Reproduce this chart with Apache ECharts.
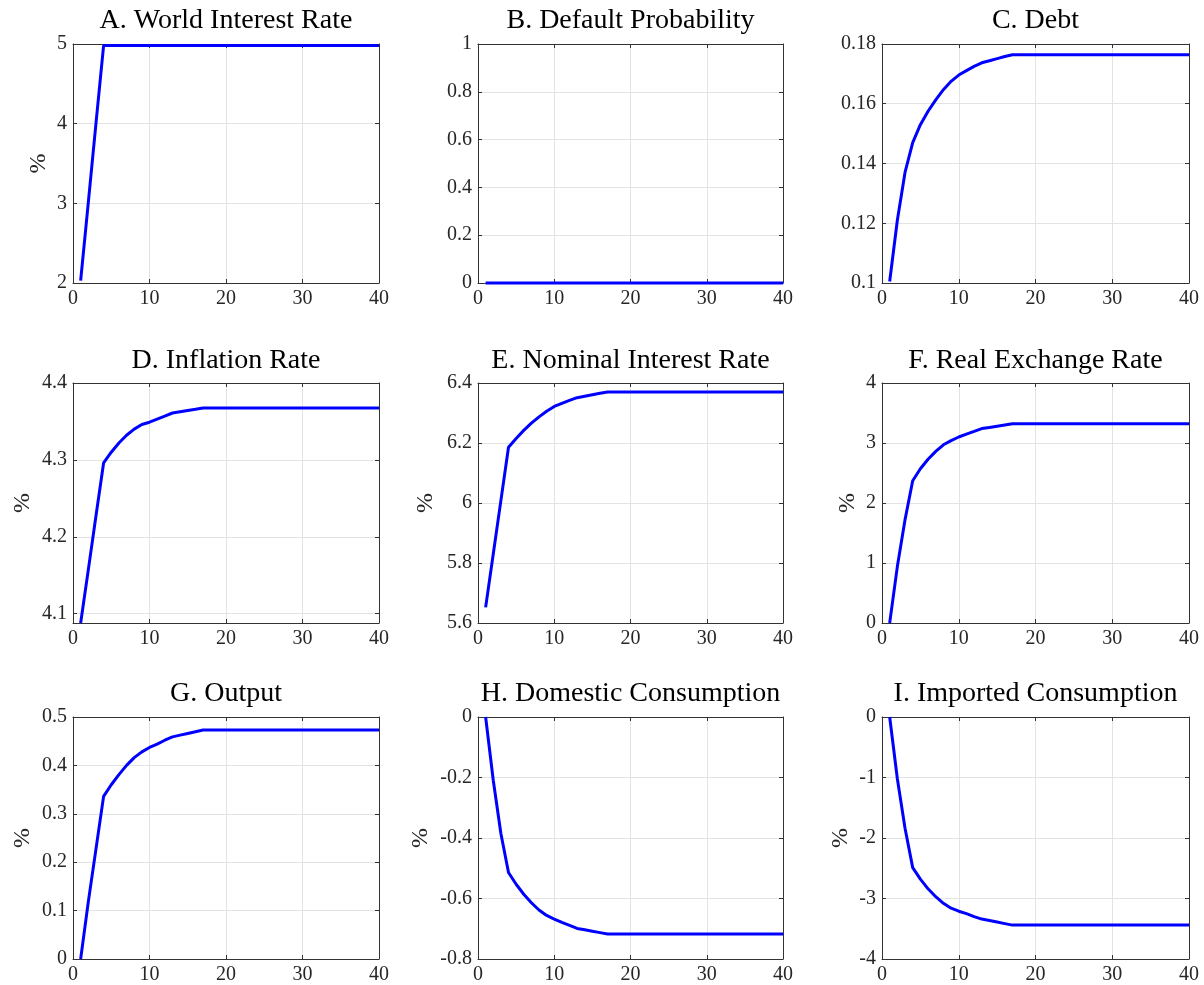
<!DOCTYPE html>
<html>
<head>
<meta charset="utf-8">
<script src="https://cdn.jsdelivr.net/npm/echarts@6/dist/echarts.min.js"></script>
<style>
html,body{margin:0;padding:0;background:#fff;}
#chart{width:1204px;height:985px;}
</style>
</head>
<body>
<div id="chart"></div>
<script>
// ---- data ----
const periods = [1,2,3,4,5,6,7,8,9,10,11,12,13,14,15,16,17,18,19,20,21,22,23,24,25,26,27,28,29,30,31,32,33,34,35,36,37,38,39,40];

const titles = ['A. World Interest Rate','B. Default Probability','C. Debt',
                'D. Inflation Rate','E. Nominal Interest Rate','F. Real Exchange Rate',
                'G. Output','H. Domestic Consumption','I. Imported Consumption'];

const worldRate = [2.03,3.01,4.0,4.98,4.98,4.98,4.98,4.98,4.98,4.98,4.98,4.98,4.98,4.98,4.98,4.98,4.98,4.98,4.98,4.98,4.98,4.98,4.98,4.98,4.98,4.98,4.98,4.98,4.98,4.98,4.98,4.98,4.98,4.98,4.98,4.98,4.98,4.98,4.98,4.98];
const defaultProb = [0,0,0,0,0,0,0,0,0,0,0,0,0,0,0,0,0,0,0,0,0,0,0,0,0,0,0,0,0,0,0,0,0,0,0,0,0,0,0,0];
const debt = [0.1005,0.121,0.137,0.147,0.153,0.1575,0.1613,0.1647,0.1675,0.1696,0.1711,0.1725,0.1737,0.1744,0.1751,0.1758,0.1764,0.1764,0.1764,0.1764,0.1764,0.1764,0.1764,0.1764,0.1764,0.1764,0.1764,0.1764,0.1764,0.1764,0.1764,0.1764,0.1764,0.1764,0.1764,0.1764,0.1764,0.1764,0.1764,0.1764];
const inflation = [4.088,4.157,4.227,4.296,4.31,4.322,4.332,4.34,4.346,4.349,4.353,4.357,4.361,4.3626,4.3642,4.3658,4.3675,4.3675,4.3675,4.3675,4.3675,4.3675,4.3675,4.3675,4.3675,4.3675,4.3675,4.3675,4.3675,4.3675,4.3675,4.3675,4.3675,4.3675,4.3675,4.3675,4.3675,4.3675,4.3675,4.3675];
const nominalRate = [5.652,5.83,6.008,6.186,6.215,6.242,6.266,6.287,6.306,6.322,6.332,6.342,6.351,6.356,6.361,6.366,6.37,6.37,6.37,6.37,6.37,6.37,6.37,6.37,6.37,6.37,6.37,6.37,6.37,6.37,6.37,6.37,6.37,6.37,6.37,6.37,6.37,6.37,6.37,6.37];
const realExchange = [0.0,0.94,1.72,2.37,2.57,2.73,2.86,2.97,3.04,3.10,3.147,3.193,3.24,3.26,3.28,3.30,3.32,3.32,3.32,3.32,3.32,3.32,3.32,3.32,3.32,3.32,3.32,3.32,3.32,3.32,3.32,3.32,3.32,3.32,3.32,3.32,3.32,3.32,3.32,3.32];
const output = [0.0,0.118,0.227,0.336,0.36,0.381,0.40,0.416,0.428,0.437,0.444,0.452,0.459,0.4625,0.466,0.4695,0.473,0.473,0.473,0.473,0.473,0.473,0.473,0.473,0.473,0.473,0.473,0.473,0.473,0.473,0.473,0.473,0.473,0.473,0.473,0.473,0.473,0.473,0.473,0.473];
const domCons = [0.0,-0.209,-0.385,-0.514,-0.553,-0.586,-0.614,-0.638,-0.656,-0.668,-0.679,-0.689,-0.699,-0.7036,-0.7082,-0.7128,-0.7175,-0.7175,-0.7175,-0.7175,-0.7175,-0.7175,-0.7175,-0.7175,-0.7175,-0.7175,-0.7175,-0.7175,-0.7175,-0.7175,-0.7175,-0.7175,-0.7175,-0.7175,-0.7175,-0.7175,-0.7175,-0.7175,-0.7175,-0.7175];
const impCons = [0.0,-1.02,-1.84,-2.49,-2.68,-2.84,-2.97,-3.08,-3.16,-3.21,-3.25,-3.30,-3.34,-3.365,-3.39,-3.415,-3.44,-3.44,-3.44,-3.44,-3.44,-3.44,-3.44,-3.44,-3.44,-3.44,-3.44,-3.44,-3.44,-3.44,-3.44,-3.44,-3.44,-3.44,-3.44,-3.44,-3.44,-3.44,-3.44,-3.44];

const xTicks = {min: 0, max: 40, interval: 10};
const yMins = [2, 0, 0.1, 4.0879, 5.6, 0, 0, -0.8, -4];
const yMaxs = [5, 1, 0.18, 4.4, 6.4, 4, 0.5, 0, 0];
const yIntervals = [1, 0.2, 0.02, 0.1, 0.2, 1, 0.1, 0.2, 1];
const yLabels = ['%', '', '', '%', '%', '%', '%', '%', '%'];

const seriesData = [worldRate, defaultProb, debt, inflation, nominalRate, realExchange, output, domCons, impCons];

// ---- layout ----
const colLeft = [73, 478, 882];
const colWidth = [306, 305, 307];
const rowTop = [44, 383, 717];
const rowHeight = [239, 240, 242];
const nameGaps = [22, 0, 0, 38, 40, 22, 38, 45, 29];
const titleTops = [7, 347, 680];

const FONT = 'Liberation Serif';
const TXT = '#262626';
const AX = '#333333';

const grids = [], xAxes = [], yAxes = [], series = [], titleArr = [];
for (let i = 0; i < 9; i++) {
  const r = Math.floor(i / 3), c = i % 3;
  grids.push({left: colLeft[c], top: rowTop[r], width: colWidth[c], height: rowHeight[r], containLabel: false});
  titleArr.push({
    text: titles[i], left: colLeft[c] + colWidth[c] / 2, top: titleTops[r], textAlign: 'center', padding: 0,
    textStyle: {fontFamily: FONT, fontSize: 28, fontWeight: 'normal', color: '#000'}
  });
  const common = {
    type: 'value', gridIndex: i,
    axisLine: {show: true, onZero: false, lineStyle: {color: AX, width: 1}},
    axisTick: {show: true, inside: true, length: 4, lineStyle: {color: AX}}
  };
  xAxes.push(Object.assign({}, common, {
    position: 'bottom', min: xTicks.min, max: xTicks.max, interval: xTicks.interval,
    axisLabel: {fontFamily: FONT, fontSize: 20, color: TXT, margin: 6},
    splitLine: {show: true, lineStyle: {color: '#e3e3e3', width: 1}}
  }));
  xAxes.push(Object.assign({}, common, {
    position: 'top', min: xTicks.min, max: xTicks.max, interval: xTicks.interval,
    axisLabel: {show: false}, splitLine: {show: false}
  }));
  const yCommon = {
    min: yMins[i], max: yMaxs[i], minInterval: yIntervals[i], maxInterval: yIntervals[i], splitNumber: 5
  };
  yAxes.push(Object.assign({}, common, yCommon, {
    position: 'left',
    name: yLabels[i], nameLocation: 'middle', nameGap: nameGaps[i], nameRotate: 90,
    nameTextStyle: {fontFamily: FONT, fontSize: 24, color: TXT},
    axisLabel: {fontFamily: FONT, fontSize: 20, color: TXT, margin: 6,
      showMinLabel: i === 3 ? false : true},
    splitLine: {show: true, lineStyle: {color: '#e3e3e3', width: 1}}
  }));
  yAxes.push(Object.assign({}, common, yCommon, {
    position: 'right', axisLabel: {show: false}, splitLine: {show: false}
  }));
  series.push({
    type: 'line', xAxisIndex: 2 * i, yAxisIndex: 2 * i,
    data: periods.map((p, k) => [p, seriesData[i][k]]),
    showSymbol: false, clip: false, silent: true,
    lineStyle: {color: '#0000ff', width: 3}, itemStyle: {color: '#0000ff'}
  });
}

const chart = echarts.init(document.getElementById('chart'), null, {renderer: 'canvas'});
chart.setOption({
  animation: false,
  backgroundColor: '#ffffff',
  title: titleArr,
  grid: grids,
  xAxis: xAxes,
  yAxis: yAxes,
  series: series
});
</script>
</body>
</html>
